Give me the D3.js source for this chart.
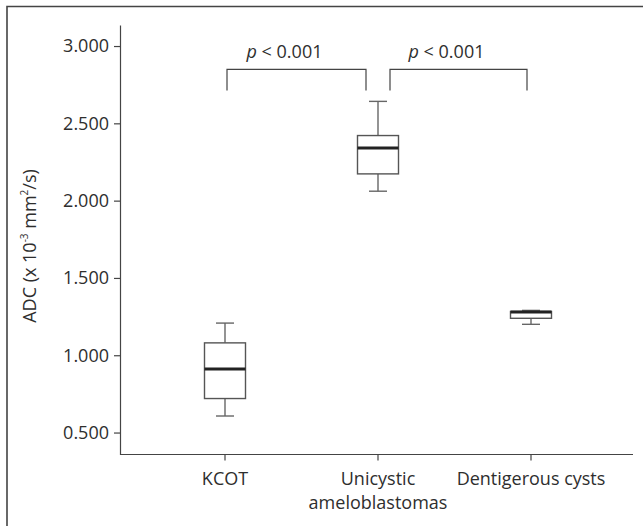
<!DOCTYPE html>
<html>
<head>
<meta charset="utf-8">
<script src="https://cdn.jsdelivr.net/npm/d3@7"></script>
<style>
  body { margin: 0; background: #fff; }
  svg { display: block; }
  text { font-family: "Open Sans", sans-serif; fill: #2e2e2e; }
</style>
</head>
<body>
<div id="chart"></div>
<script>
// box plot summary values
const categories = ['KCOT', 'Unicystic ameloblastomas', 'Dentigerous cysts'];
const categoryLines = [['KCOT'], ['Unicystic', 'ameloblastomas'], ['Dentigerous cysts']];
const whiskerLow = [0.607, 2.061, 1.200];
const q1 = [0.720, 2.173, 1.239];
const median = [0.911, 2.341, 1.279];
const q3 = [1.080, 2.421, 1.283];
const whiskerHigh = [1.208, 2.642, 1.290];
const yTicks = [0.5, 1.0, 1.5, 2.0, 2.5, 3.0];
const comparisons = [[0, 1], [1, 2]];
const pLabels = ['p', 'p'];

const width = 643,
      height = 526,
      fontSize = 18;

const svg = d3.select('#chart')
    .append('svg')
    .attr('width', width)
    .attr('height', height);

// outer frame (only top and left edges are visible)
svg.append('path')
    .attr('d', 'M7,' + height + 'V6.5H' + width)
    .attr('fill', 'none')
    .attr('stroke', '#444')
    .attr('stroke-width', 1.6);

const y = d3.scaleLinear()
    .domain([0.358, 3.136])
    .range([454.5, 25]);

const x = d3.scalePoint()
    .domain(categories)
    .range([225, 531]);

const axisX0 = 120,
      axisX1 = 633;

// y axis
const yAxis = svg.append('g')
    .attr('transform', 'translate(' + axisX0 + ',0)')
    .call(d3.axisLeft(y)
        .tickValues(yTicks)
        .tickFormat(d3.format('.3f'))
        .tickSize(6)
        .tickSizeOuter(0)
        .tickPadding(5));

yAxis.select('.domain').attr('stroke', '#444').attr('stroke-width', 1.2);
yAxis.selectAll('.tick line').attr('stroke', '#444').attr('stroke-width', 1.2);
yAxis.selectAll('.tick text')
    .attr('font-family', '"Open Sans", sans-serif')
    .attr('font-size', fontSize)
    .attr('fill', '#2e2e2e');

// x axis
svg.append('line')
    .attr('x1', axisX0).attr('x2', axisX1)
    .attr('y1', y.range()[0]).attr('y2', y.range()[0])
    .attr('stroke', '#444')
    .attr('stroke-width', 1.2);

const xTicks = svg.append('g').selectAll('g')
    .data(categories)
    .join('g')
    .attr('transform', function(d) { return 'translate(' + x(d) + ',' + y.range()[0] + ')'; });

xTicks.append('line')
    .attr('y2', 6)
    .attr('stroke', '#444')
    .attr('stroke-width', 1.2);

xTicks.append('text')
    .attr('text-anchor', 'middle')
    .attr('font-size', fontSize)
    .selectAll('tspan')
    .data(function(d, i) { return categoryLines[i]; })
    .join('tspan')
    .attr('x', 0)
    .attr('y', function(d, i) { return 30 + i * 24.5; })
    .text(function(d) { return d; });

// y axis title
const title = svg.append('text')
    .attr('transform', 'translate(36,246) rotate(-90)')
    .attr('text-anchor', 'middle')
    .attr('font-size', fontSize);
title.append('tspan').text('ADC (x 10');
title.append('tspan').attr('font-size', 10).attr('dy', -8).text('-3');
title.append('tspan').attr('dy', 8).text(' mm');
title.append('tspan').attr('font-size', 10).attr('dy', -8).text('2');
title.append('tspan').attr('dy', 8).text('/s)');

// boxes
const boxWidth = 41,
      capWidth = 18;

const boxes = svg.append('g').selectAll('g')
    .data(categories)
    .join('g')
    .attr('transform', function(d) { return 'translate(' + x(d) + ',0)'; });

boxes.append('line')
    .attr('y1', function(d, i) { return y(whiskerHigh[i]); })
    .attr('y2', function(d, i) { return y(q3[i]); })
    .attr('stroke', '#666').attr('stroke-width', 1.4);

boxes.append('line')
    .attr('y1', function(d, i) { return y(q1[i]); })
    .attr('y2', function(d, i) { return y(whiskerLow[i]); })
    .attr('stroke', '#666').attr('stroke-width', 1.4);

boxes.append('line')
    .attr('x1', -capWidth / 2).attr('x2', capWidth / 2)
    .attr('y1', function(d, i) { return y(whiskerHigh[i]); })
    .attr('y2', function(d, i) { return y(whiskerHigh[i]); })
    .attr('stroke', '#666').attr('stroke-width', 1.4);

boxes.append('line')
    .attr('x1', -capWidth / 2).attr('x2', capWidth / 2)
    .attr('y1', function(d, i) { return y(whiskerLow[i]); })
    .attr('y2', function(d, i) { return y(whiskerLow[i]); })
    .attr('stroke', '#666').attr('stroke-width', 1.4);

boxes.append('rect')
    .attr('x', -boxWidth / 2)
    .attr('width', boxWidth)
    .attr('y', function(d, i) { return y(q3[i]); })
    .attr('height', function(d, i) { return y(q1[i]) - y(q3[i]); })
    .attr('fill', '#fff')
    .attr('stroke', '#555')
    .attr('stroke-width', 1.4);

boxes.append('line')
    .attr('x1', -boxWidth / 2).attr('x2', boxWidth / 2)
    .attr('y1', function(d, i) { return y(median[i]); })
    .attr('y2', function(d, i) { return y(median[i]); })
    .attr('stroke', '#222').attr('stroke-width', 3);

// significance brackets
const bracketTop = 2.849,
      bracketFoot = 2.712,
      bracketGap = 12;

comparisons.forEach(function(c, k) {
    const x0 = x(categories[c[0]]) + (k === 0 ? 2 : bracketGap),
          x1 = x(categories[c[1]]) - (k === 0 ? bracketGap : 4);

    svg.append('path')
        .attr('d', 'M' + x0 + ',' + y(bracketFoot) + 'V' + y(bracketTop) + 'H' + x1 + 'V' + y(bracketFoot))
        .attr('fill', 'none')
        .attr('stroke', '#444')
        .attr('stroke-width', 1.2);

    const t = svg.append('text')
        .attr('x', (x0 + x1) / 2 - 12)
        .attr('y', y(bracketTop) - 11)
        .attr('text-anchor', 'middle')
        .attr('font-size', fontSize);
    t.append('tspan').attr('font-style', 'italic').text(pLabels[k]);
    t.append('tspan').text(' < 0.001');
});
</script>
</body>
</html>
